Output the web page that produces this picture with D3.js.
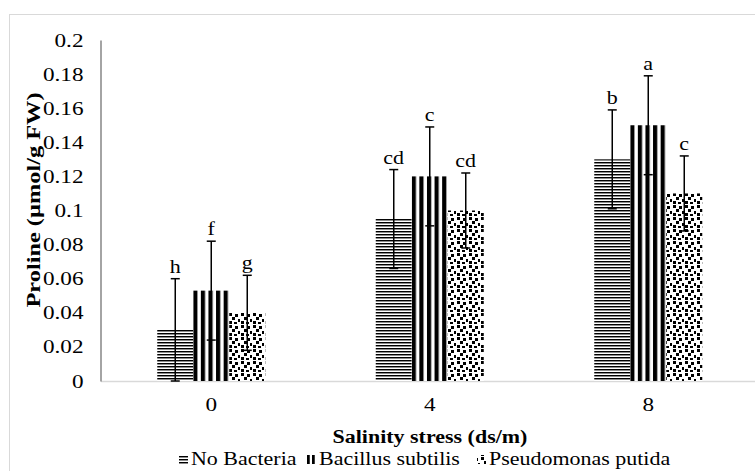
<!DOCTYPE html>
<html><head><meta charset="utf-8">
<script src="https://cdn.jsdelivr.net/npm/d3@7"></script>
<style>body{margin:0;background:#fff}svg{display:block}svg text{font-family:"Liberation Serif","Times New Roman",Tinos,"DejaVu Serif",serif !important}</style>
</head><body><svg id="c" width="755" height="471"></svg>
<script>
const categories = ["0","4","8"];
const seriesNames = ["No Bacteria","Bacillus subtilis","Pseudomonas putida"];
const noBacteria = [0.030, 0.095, 0.130];
const bacillus = [0.053, 0.120, 0.150];
const pseudomonas = [0.040, 0.100, 0.110];
const errNoBacteria = [0.030, 0.029, 0.029];
const errBacillus = [0.029, 0.029, 0.029];
const errPseudomonas = [0.022, 0.022, 0.022];
const letters = [["h","cd","b"],["f","c","a"],["g","cd","c"]];
const yTicks = [0,0.02,0.04,0.06,0.08,0.1,0.12,0.14,0.16,0.18,0.2];

const FONT = "'Liberation Serif','Times New Roman',Tinos,'DejaVu Serif',serif";
const K = 1.22; // horizontal text stretch seen in the reference
const values = [noBacteria, bacillus, pseudomonas];
const errs = [errNoBacteria, errBacillus, errPseudomonas];
const svg = d3.select("#c");
const defs = svg.append("defs");

function stretch(sel){
  sel.each(function(){
    const w = this.getComputedTextLength();
    d3.select(this).attr("textLength", w*K).attr("lengthAdjust","spacingAndGlyphs");
  });
}
function hPattern(id){
  const p = defs.append("pattern").attr("id",id).attr("patternUnits","userSpaceOnUse").attr("width",6).attr("height",3);
  p.append("rect").attr("width",6).attr("height",3).attr("fill","#fff");
  p.append("rect").attr("y",0).attr("width",6).attr("height",1).attr("fill","#000");
  p.append("rect").attr("y",1).attr("width",6).attr("height",1).attr("fill","#8c8c8c");
}
function vPattern(id, x0, w){
  const p = defs.append("pattern").attr("id",id).attr("patternUnits","userSpaceOnUse").attr("x",x0).attr("width",w).attr("height",6);
  p.append("rect").attr("width",w).attr("height",6).attr("fill","#fff");
  p.append("rect").attr("x",0).attr("width",w*0.55).attr("height",6).attr("fill","#000");
}
function dPattern(id){
  const p = defs.append("pattern").attr("id",id).attr("patternUnits","userSpaceOnUse").attr("width",12).attr("height",12);
  p.append("rect").attr("width",12).attr("height",12).attr("fill","#fff");
  [[1,1],[7,2],[4,5],[10,7],[1,9],[6,10]].forEach(([x,y])=>p.append("rect").attr("x",x).attr("y",y).attr("width",3).attr("height",3).attr("fill","#000"));
}
hPattern("pH"); dPattern("pD");

// outer border
svg.append("rect").attr("x",9.5).attr("y",14.5).attr("width",760).attr("height",470).attr("fill","none").attr("stroke","#d9d9d9").attr("stroke-width",1);

const x0 = d3.scaleBand().domain(categories).range([102,757.5]).paddingInner(0);
const barW = 36;
const y = d3.scaleLinear().domain([0,0.2]).range([381,40]);

// baseline
svg.append("line").attr("x1",101).attr("x2",757.5).attr("y1",381.5).attr("y2",381.5).attr("stroke","#d9d9d9").attr("stroke-width",1.5);

// y axis
const yAxis = d3.axisLeft(y).tickValues(yTicks).tickSize(0).tickPadding(17).tickFormat(d=>String(+d.toFixed(2)));
const ga = svg.append("g").attr("transform","translate(100.5,0)").call(yAxis);
ga.attr("font-family",FONT);
ga.select(".domain").attr("stroke","#868686").attr("stroke-width",1.5);
ga.selectAll("text").attr("font-size",19).attr("fill","#000").call(stretch);

// x labels
const xAxis = d3.axisBottom(x0).tickSize(0).tickPadding(17);
const gx = svg.append("g").attr("transform","translate(0,381)").call(xAxis);
gx.attr("font-family",FONT);
gx.select(".domain").remove();
gx.selectAll("text").attr("font-size",19).attr("fill","#000").call(stretch);

// bars
values.forEach((vals,s)=>{
  const g = svg.append("g");
  categories.forEach((c,i)=>{
    const bx = x0(c)+x0.bandwidth()/2 - 1.5*barW + s*barW;
    let fill = s===0 ? "url(#pH)" : "url(#pD)";
    if(s===1){ vPattern("pV"+i, bx, 7.6); fill = "url(#pV"+i+")"; }
    g.append("rect").attr("x",bx).attr("y",y(vals[i])).attr("width",barW).attr("height",y(0)-y(vals[i])).attr("fill",fill);
    const mx = bx+barW/2;
    const top = y(vals[i]+errs[s][i]), bot = y(Math.max(0,vals[i]-errs[s][i]));
    g.append("line").attr("x1",mx).attr("x2",mx).attr("y1",top).attr("y2",bot).attr("stroke","#000").attr("stroke-width",1.5);
    [top,bot].forEach(yy=>g.append("line").attr("x1",mx-4.5).attr("x2",mx+4.5).attr("y1",yy).attr("y2",yy).attr("stroke","#000").attr("stroke-width",1.5));
    g.append("text").attr("x",mx).attr("y",top-6).attr("text-anchor","middle").attr("font-size",18).attr("font-family",FONT).text(letters[s][i]).call(stretch);
  });
});

// axis titles
svg.append("text").attr("transform","translate(40,200) rotate(-90)").attr("text-anchor","middle").attr("font-size",19).attr("font-weight","bold").attr("font-family",FONT).attr("textLength",215).attr("lengthAdjust","spacingAndGlyphs").text("Proline (µmol/g FW)");
svg.append("text").attr("x",430).attr("y",443).attr("text-anchor","middle").attr("font-size",18).attr("font-weight","bold").attr("font-family",FONT).text("Salinity stress (ds/m)").call(stretch);

// legend
const legX = [179, 307, 477];
vPattern("pVleg", 307, 5);
const legFills = ["url(#pH)","url(#pVleg)","url(#pD)"];
const leg = svg.append("g");
seriesNames.forEach((n,s)=>{
  leg.append("rect").attr("x",legX[s]).attr("y",455).attr("width",9).attr("height",9).attr("fill",legFills[s]);
  leg.append("text").attr("x",legX[s]+12).attr("y",465).attr("font-size",18).attr("font-family",FONT).text(n).call(stretch);
});
</script></body></html>
